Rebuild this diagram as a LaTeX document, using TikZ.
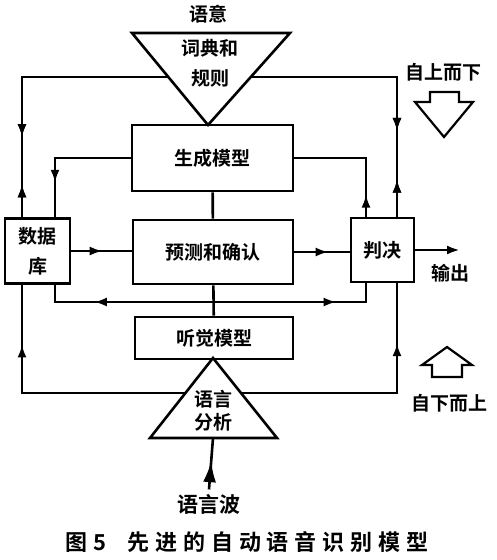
\documentclass[tikz,border=0pt]{standalone}
\usepackage{fontspec}
\setmainfont{Noto Sans CJK SC}[BoldFont={Noto Sans CJK SC Bold}]
\usetikzlibrary{arrows.meta,decorations.markings}

\begin{document}
\begin{tikzpicture}[x=1pt,y=-1pt,line width=2.6pt,
    every node/.style={font=\bfseries\fontsize{19}{30}\selectfont},
    box/.style={draw,inner sep=0pt,minimum width=#1},
    tipat/.style={postaction={decorate},decoration={markings,
      mark=at position #1 with {\arrow{Latex[length=13pt,width=9pt]}}}},
    backtip/.style={postaction={decorate},decoration={markings,
      mark=at position #1 with {\arrowreversed{Latex[length=13pt,width=9pt]}}}},
    wavetip/.style={postaction={decorate},decoration={markings,
      mark=at position #1 with {\arrow{Latex[length=21pt,width=13pt]}}}}]
  \useasboundingbox (0,0) rectangle (497,560);
  % boxes
  \node[box=161pt,minimum height=66pt] (gen) at (212.5,158) {生成模型};
  \node[box=160pt,minimum height=64pt] (pred) at (213,252) {预测和确认};
  \node[box=158pt,minimum height=42pt] (aud) at (214,338) {听觉模型};
  \node[box=65pt,minimum height=65pt,align=center] (db) at (37.5,251) {数据\\库};
  \node[box=63pt,minimum height=64pt] (dec) at (382.5,250) {判决};
  % triangles
  \draw[line join=miter] (132,33) -- (290,33) -- (208,125) -- cycle;
  \draw[line join=miter] (213,358) -- (277,438) -- (150,438) -- cycle;
  \coordinate (lexL) at (168,77);
  \coordinate (lexR) at (251,77);
  \coordinate (anaL) at (185,393);
  \coordinate (anaR) at (241,393);
  \coordinate (anaB) at (213,438);
  \node[align=center] (lex) at (210,63) {词典和\\规则};
  \node[align=center,font=\bfseries\fontsize{19}{23}\selectfont] (ana) at (213,411) {语言\\分析};
  % labels
  \node (sense) at (208,14) {语意};
  \node (down) at (443,72) {自上而下};
  \node (up) at (449,403) {自下而上};
  \node (outlbl) at (450,273) {输出};
  \node[font=\bfseries\fontsize{21}{24}\selectfont] (wave) at (209,504) {语言波};
  \coordinate (out) at (460,250);
  \coordinate (fork) at (213,302);
  % connectors
  \draw[tipat=0.72,backtip=0.885] (lexL) -| ([xshift=-15.5pt]db.north);
  \draw[tipat=0.70,backtip=0.87] (lexR) -| ([xshift=14.5pt]dec.north);
  \draw[tipat=0.78] (anaL) -| ([xshift=-15.5pt]db.south);
  \draw[tipat=0.775] (anaR) -| ([xshift=14.5pt]dec.south);
  \draw[tipat=0.745] (gen.west) -| ([xshift=17.5pt]db.north);
  \draw[tipat=0.17] ([xshift=-16.5pt]dec.north) |- (gen.east);
  \draw (gen) -- (pred);
  \draw (pred) -- (aud);
  \draw[tipat=0.68] (fork) -| ([xshift=17.5pt]db.south);
  \draw[tipat=0.72] (fork) -| ([xshift=-16.5pt]dec.south);
  \draw[tipat=0.52] (db.east) -- (db.east -| pred.west);
  \draw[tipat=0.62] (pred.east) -- (pred.east -| dec.west);
  \draw[-{Latex[length=13pt,width=9pt]}] (dec.east) -- (out);
  \draw[wavetip=0.55] (wave.north) -- (anaB);
  % hollow block arrows
  \draw[line width=2.2pt] (430,92) -- (459,92) -- (459,102) -- (473,102) -- (444,137)
    -- (415,102) -- (430,102) -- cycle;
  \draw[line width=2.2pt] (447,347) -- (472,365) -- (462,365) -- (462,377) -- (432,377)
    -- (432,365) -- (422,365) -- cycle;
  % caption
  \node[font=\bfseries\fontsize{22}{24}\selectfont\addfontfeature{LetterSpace=27}] (cap) at (247,542) {图5\hspace{21pt}先进的自动语音识别模型};
\end{tikzpicture}
\end{document}
